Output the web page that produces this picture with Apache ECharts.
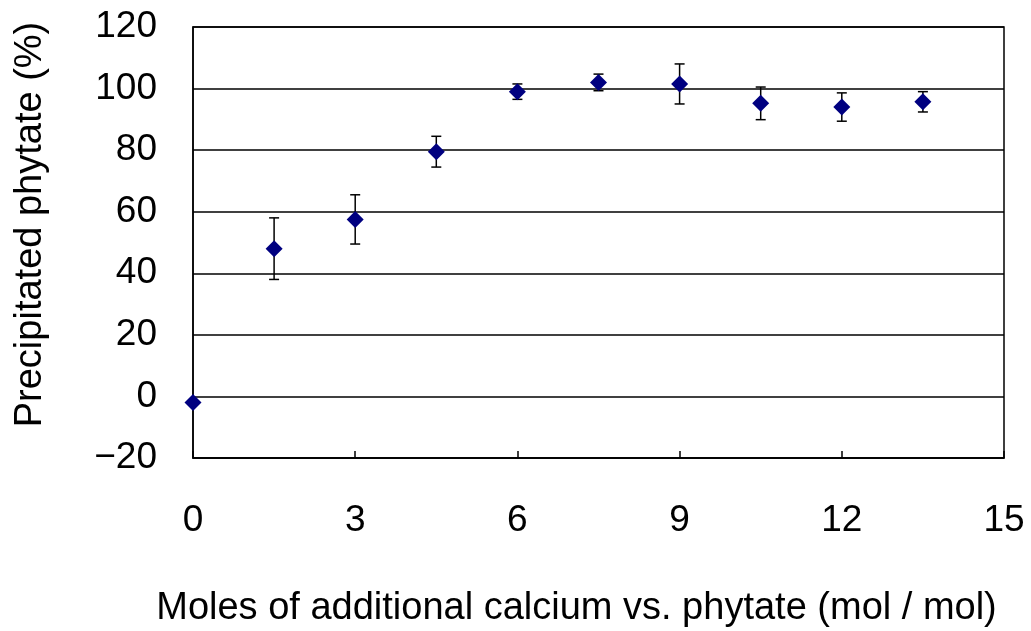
<!DOCTYPE html>
<html>
<head>
<meta charset="utf-8">
<script src="https://cdn.jsdelivr.net/npm/echarts@6/dist/echarts.min.js"></script>
<style>
  html, body { margin: 0; padding: 0; background: #fff; }
  #chart { width: 1031px; height: 631px; }
</style>
</head>
<body>
<div id="chart"></div>
<script>
// moles of added calcium per mole phytate
const calcium = [0, 1.5, 3, 4.5, 6, 7.5, 9, 10.5, 12, 13.5];
// precipitated phytate (%)
const precipitated = [-2, 48, 57.5, 79.5, 99, 102, 101.5, 95.2, 94, 95.7];
// error bar half-lengths
const errors = [0, 10, 8, 5, 2.5, 2.7, 6.5, 5.3, 4.6, 3.3];

const font = "'Liberation Sans', Arial, sans-serif";
const chart = echarts.init(document.getElementById("chart"));

const points = calcium.map((x, i) => [x, precipitated[i]]);
const bars = calcium
  .map((x, i) => [x, precipitated[i] - errors[i], precipitated[i] + errors[i]])
  .filter((d, i) => errors[i] > 0);

chart.setOption({
  animation: false,
  grid: {
    left: 193, right: 27, top: 27, bottom: 173,
    outerBoundsMode: "none",
    show: true, borderColor: "#000", borderWidth: 1.5,
  },
  xAxis: {
    type: "value",
    min: 0,
    max: 15,
    interval: 3,
    name: "Moles of additional calcium vs. phytate (mol / mol)",
    nameLocation: "middle",
    nameGap: 132,
    nameTextStyle: { fontFamily: font, fontSize: 38, color: "#000", padding: [0, 44, 0, 0] },
    axisLine: { onZero: false, lineStyle: { color: "#000", width: 1.5 } },
    axisTick: { inside: true, length: 7, lineStyle: { color: "#000", width: 1.5 } },
    axisLabel: { fontFamily: font, fontSize: 37, lineHeight: 37, color: "#000", margin: 44 },
    splitLine: { show: false },
  },
  yAxis: {
    type: "value",
    min: -20,
    max: 120,
    interval: 20,
    name: "Precipitated phytate (%)",
    nameLocation: "middle",
    nameGap: 143,
    nameTextStyle: { fontFamily: font, fontSize: 38, color: "#000", padding: [0, 0, 0, 36] },
    axisLine: { lineStyle: { color: "#000", width: 1.5 } },
    axisTick: { show: false },
    axisLabel: {
      fontFamily: font, fontSize: 37, color: "#000", margin: 36,
      formatter: (v) => String(v).replace("-", "\u2212"),
    },
    splitLine: { lineStyle: { color: "#000", width: 1.5 } },
  },
  series: [
    {
      type: "custom",
      data: bars,
      z: 1,
      renderItem: (params, api) => {
        const x = api.value(0);
        const lo = api.coord([x, api.value(1)]);
        const hi = api.coord([x, api.value(2)]);
        const cap = 5;
        const style = { stroke: "#000", lineWidth: 1.5 };
        return {
          type: "group",
          children: [
            { type: "line", shape: { x1: lo[0], y1: lo[1], x2: hi[0], y2: hi[1] }, style },
            { type: "line", shape: { x1: lo[0] - cap, y1: lo[1], x2: lo[0] + cap, y2: lo[1] }, style },
            { type: "line", shape: { x1: hi[0] - cap, y1: hi[1], x2: hi[0] + cap, y2: hi[1] }, style },
          ],
        };
      },
    },
    {
      type: "scatter",
      data: points,
      symbol: "diamond",
      symbolSize: [17, 17],
      z: 3,
      itemStyle: { color: "#000080", opacity: 1 },
    },
  ],
});
</script>
</body>
</html>
